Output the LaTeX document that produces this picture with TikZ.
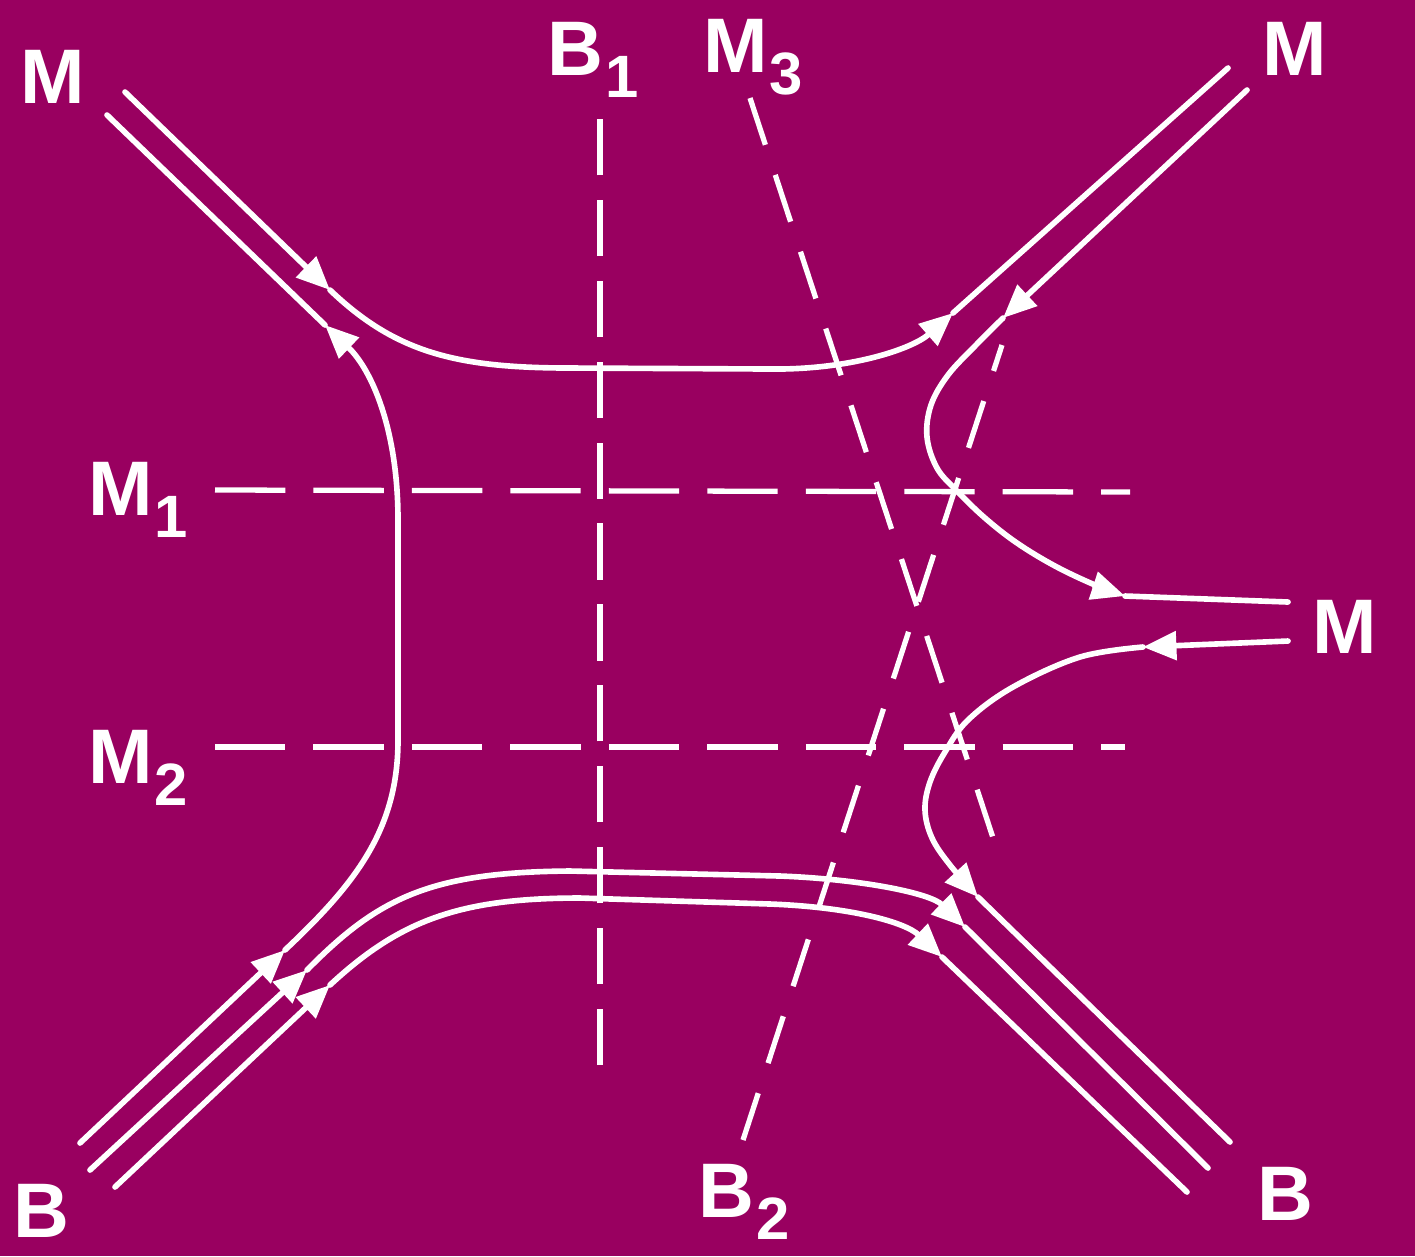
\documentclass[tikz,border=0pt]{standalone}
\usepackage{fontspec}
\setmainfont{Liberation Sans}
\usetikzlibrary{arrows.meta}
\definecolor{bg}{RGB}{153,0,96}
\tikzset{
  flow/.style={draw=white, line width=1.6pt, line cap=round},
  tip/.style={-{Triangle[length=9.5pt,width=8pt]}},
  guideh/.style={draw=white, line width=1.5pt, dash pattern=on 20pt off 8pt},
  guidev/.style={draw=white, line width=1.5pt, dash pattern=on 16pt off 7pt},
  guided/.style={draw=white, line width=1.5pt, dash pattern=on 14pt off 9pt},
  lab/.style={text=white, font=\fontsize{22}{22}\selectfont\bfseries, inner sep=0pt, anchor=base west},
}
\newcommand{\sbs}[1]{\kern0.5pt\raisebox{-6.5pt}{\fontsize{17}{17}\selectfont #1}}
\begin{document}
\begin{tikzpicture}[x=0.01cm,y=-0.01cm]
\fill[bg] (0,0) rectangle (1415,1256);
\useasboundingbox (0,0) rectangle (1415,1256);

% labels
\node[lab] (lMtl) at (20,103) {M};
\node[lab] (lB1) at (547,75) {B\sbs{1}};
\node[lab] (lM3) at (703,72) {M\sbs{3}};
\node[lab] (lMtr) at (1262,75) {M};
\node[lab] (lM1) at (88,515) {M\sbs{1}};
\node[lab] (lM2) at (88,783) {M\sbs{2}};
\node[lab] (lMr) at (1312,653) {M};
\node[lab] (lBbl) at (13,1237) {B};
\node[lab] (lB2) at (698,1217) {B\sbs{2}};
\node[lab] (lBbr) at (1257,1220) {B};

% dashed guide lines
\coordinate (b1t) at (600,100);   \coordinate (b1b) at (600,1065);
\coordinate (m1l) at (215,490);   \coordinate (m1r) at (1130,492);
\coordinate (m2l) at (215,747);   \coordinate (m2r) at (1125,747);
\coordinate (m3t) at (750,98);    \coordinate (m3b) at (997,850);
\coordinate (b2t) at (1002,345);  \coordinate (b2b) at (743,1140);
\draw[guidev] (b1b) -- (b1t);
\draw[guideh] (m1l) -- (m1r);
\draw[guideh] (m2l) -- (m2r);
\draw[guided] (m3t) -- (m3b);
\draw[guided] (b2b) -- (b2t);

% flow line A: M (top left) -> M (top right)
\coordinate (mtl1) at (125,92);
\coordinate (a1) at (330,290);
\coordinate (a2) at (953,313);
\coordinate (mtr1) at (1228,68);
\draw[flow,tip] (mtl1) -- (a1);
\draw[flow,tip] (a1) .. controls (395,352) and (455,368) .. (570,368) -- (770,369) .. controls (850,370) and (912,349) .. (a2);
\draw[flow] (a2) -- (mtr1);

% flow line B: B (bottom left) -> M (top left)
\coordinate (bbl1) at (80,1143);
\coordinate (b1) at (285,950);
\coordinate (b2) at (325,325);
\coordinate (mtl2) at (107,115);
\draw[flow,tip] (bbl1) -- (b1);
\draw[flow,tip] (b1) .. controls (355,884) and (398,830) .. (398,740) -- (398,520) .. controls (398,430) and (372,370) .. (b2);
\draw[flow] (b2) -- (mtl2);

% flow line C: B (bottom left) -> B (bottom right), upper
\coordinate (bbl2) at (90,1170);
\coordinate (c1) at (307,970);
\coordinate (c2) at (965,927);
\coordinate (bbr2) at (1208,1168);
\draw[flow,tip] (bbl2) -- (c1);
\draw[flow,tip] (c1) .. controls (378,898) and (430,872) .. (570,871) -- (780,876) .. controls (860,879) and (930,893) .. (c2);
\draw[flow] (c2) -- (bbr2);

% flow line D: B (bottom left) -> B (bottom right), lower
\coordinate (bbl3) at (115,1187);
\coordinate (d1) at (330,985);
\coordinate (d2) at (942,957);
\coordinate (bbr3) at (1187,1192);
\draw[flow,tip] (bbl3) -- (d1);
\draw[flow,tip] (d1) .. controls (400,920) and (460,898) .. (580,898) -- (770,904) .. controls (850,907) and (905,922) .. (d2);
\draw[flow] (d2) -- (bbr3);

% flow line E: M (top right) -> M (right)
\coordinate (mtr2) at (1247,90);
\coordinate (e1) at (1003,318);
\coordinate (e2) at (1125,596);
\coordinate (mr1) at (1288,602);
\draw[flow,tip] (mtr2) -- (e1);
\draw[flow,tip] plot[smooth, tension=0.6] coordinates {(1003,318) (975,346) (948,375) (931,405) (927,437) (937,468) (957,491) (985,518) (1017,543) (1055,566) (1095,585) (1125,596)};
\draw[flow] (e2) -- (mr1);

% flow line F: M (right) -> B (bottom right)
\coordinate (mr2) at (1288,641);
\coordinate (f1) at (1143,647);
\coordinate (f2) at (978,897);
\coordinate (bbr1) at (1230,1142);
\draw[flow,tip] (mr2) -- (f1);
\draw[flow,tip] plot[smooth, tension=0.6] coordinates {(1143,647) (1080,657) (1013,687) (968,720) (945,752) (930,782) (925,810) (932,838) (950,865) (978,897)};
\draw[flow] (f2) -- (bbr1);
\end{tikzpicture}
\end{document}
